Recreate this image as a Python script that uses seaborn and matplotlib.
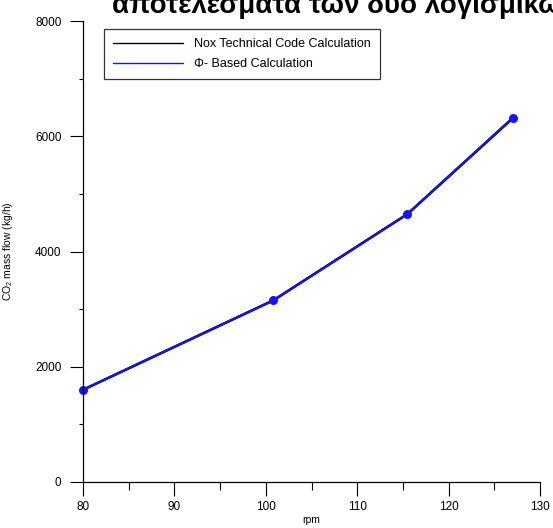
import matplotlib
matplotlib.use("Agg")
import matplotlib.pyplot as plt
import seaborn as sns
from matplotlib.lines import Line2D
from matplotlib.ticker import MultipleLocator

# Engine speed and CO2 mass flow from the two calculation methods
rpm = [80.0, 100.8, 115.5, 127.0]
co2_nox_code = [1600, 3150, 4650, 6310]
co2_phi_based = [1600, 3150, 4650, 6320]
series_labels = ["Nox Technical Code Calculation", "Φ- Based Calculation"]
x_ticks = [80, 90, 100, 110, 120, 130]
y_ticks = [0, 2000, 4000, 6000, 8000]
title_text = "αποτελέσματα των δύο λογισμικών"

sns.set_style("ticks")
plt.rcParams["font.family"] = ["Liberation Sans", "DejaVu Sans"]
plt.rcParams["mathtext.fontset"] = "custom"
plt.rcParams["mathtext.rm"] = "Liberation Sans"
plt.rcParams["mathtext.it"] = "Liberation Sans:italic"
plt.rcParams["text.color"] = "black"
plt.rcParams["axes.labelcolor"] = "black"

W, H = 553, 528
fig = plt.figure(figsize=(W / 100, H / 100), dpi=100)
left, right, top, bottom = 83, 540, 21, 482
ax = fig.add_axes([left / W, 1 - bottom / H, (right - left) / W, (bottom - top) / H])

sns.lineplot(x=rpm, y=co2_nox_code, color="black", lw=1.9, ax=ax, clip_on=False)
sns.lineplot(x=rpm, y=co2_phi_based, color="#1414f5", lw=1.5, marker="o",
             markersize=6.5, markeredgewidth=0, ax=ax, clip_on=False)

ax.set_xlim(80, 130)
ax.set_ylim(0, 8000)
ax.set_xticks(x_ticks)
ax.set_yticks(y_ticks)
ax.xaxis.set_minor_locator(MultipleLocator(5))
ax.yaxis.set_minor_locator(MultipleLocator(1000))

sns.despine(ax=ax)
for side in ("left", "bottom"):
    ax.spines[side].set_linewidth(0.9)
    ax.spines[side].set_color("black")

ax.tick_params(axis="x", which="major", length=10, width=0.8, color="black",
               direction="out", pad=4, labelsize=8.5, labelcolor="black")
ax.tick_params(axis="x", which="minor", length=5.5, width=0.8, color="black",
               direction="out")
ax.tick_params(axis="y", which="major", length=9.5, width=0.8, color="black",
               direction="out", pad=6, labelsize=8.5, labelcolor="black")
ax.tick_params(axis="y", which="minor", length=3, width=0.8, color="black",
               direction="out")

ax.set_xlabel("rpm", fontsize=7.5, labelpad=1)
ax.set_ylabel("CO$_2$ mass flow (kg/h)", fontsize=7.5)
ax.yaxis.set_label_coords((15 - left) / (right - left), 0.5)

handles = [Line2D([], [], color="black", lw=1.0),
           Line2D([], [], color="#1414f5", lw=1.0)]
leg = ax.legend(handles, series_labels, loc="upper left",
                bbox_to_anchor=(104 / W, 1 - 29 / H), bbox_transform=fig.transFigure,
                fontsize=9, frameon=True, fancybox=False, borderaxespad=0,
                handlelength=5.6, handletextpad=0.85, borderpad=0.75,
                labelspacing=0.6)
leg.get_frame().set_edgecolor("black")
leg.get_frame().set_linewidth(0.9)

fig.text(112 / W, 1 - 13 / H, title_text, fontsize=20, fontweight="bold",
         family=["Liberation Sans", "DejaVu Sans"], ha="left", va="baseline",
         color="black")

fig.savefig("out.png", dpi=100)
